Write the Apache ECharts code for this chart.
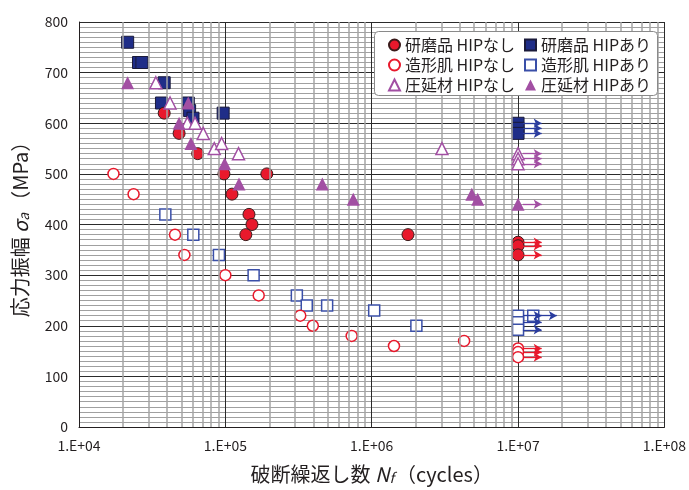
<!DOCTYPE html>
<html>
<head>
<meta charset="utf-8">
<script src="https://cdn.jsdelivr.net/npm/echarts@6/dist/echarts.min.js"></script>
<style>
html,body{margin:0;padding:0;background:#fff;}
#chart{width:689px;height:490px;}
</style>
</head>
<body>
<div id="chart"></div>
<script>
// ---- data (N cycles, stress amplitude MPa) ----
const seriesNames = ['研磨品 HIPなし','研磨品 HIPあり','造形肌 HIPなし','造形肌 HIPあり','圧延材 HIPなし','圧延材 HIPあり'];

const polishedNoHip = [[3.82e4,620],[4.83e4,580],[6.47e4,540],[9.78e4,500],[1.92e5,500],[1.11e5,460],[1.45e5,420],[1.52e5,400],[1.38e5,380],[1.77e6,380]];
const polishedNoHipRunout = [[1e7,365],[1e7,358],[1e7,340]];

const polishedHip = [[2.15e4,760],[2.55e4,720],[2.69e4,720],[3.82e4,680],[3.66e4,640],[5.58e4,640],[5.7e4,625],[6.01e4,610],[9.66e4,620]];
const polishedHipRunout = [[1e7,600],[1e7,590],[1e7,580]];

const asBuiltNoHip = [[1.72e4,500],[2.36e4,460],[4.53e4,380],[5.25e4,340],[1.0e5,300],[1.69e5,260],[3.25e5,220],[3.96e5,200],[7.3e5,180],[1.42e6,160],[4.28e6,170]];
const asBuiltNoHipRunout = [[1e7,155],[1e7,148],[1e7,138]];

const asBuiltHip = [[3.89e4,420],[6.04e4,380],[9.04e4,340],[1.56e5,300],[3.08e5,260],[3.6e5,240],[4.96e5,240],[1.04e6,230],[2.02e6,200]];
const asBuiltHipRunout = [[1e7,220],[1.27e7,220],[1e7,207],[1e7,192]];

const rolledNoHip = [[3.35e4,680],[4.19e4,640],[5.5e4,600],[6.21e4,600],[7.06e4,580],[8.4e4,550],[9.43e4,560],[1.23e5,540],[3.02e6,550]];
const rolledNoHipRunout = [[1e7,540],[1e7,530],[1e7,520]];

const rolledHip = [[2.15e4,680],[5.58e4,640],[4.83e4,600],[5.82e4,560],[9.89e4,520],[1.24e5,480],[4.6e5,480],[7.48e5,450],[4.83e6,460],[5.3e6,450]];
const rolledHipRunout = [[1e7,440]];

const xTickLabels = ['1.E+04','1.E+05','1.E+06','1.E+07','1.E+08'];
const yTicks = [0,100,200,300,400,500,600,700,800];
// minor vertical grid positions (2..9 within each decade)
const minorX = [];
[1e4,1e5,1e6,1e7].forEach(d => { for (let k = 2; k <= 9; k++) minorX.push(k * d); });

// ---- style ----
const FONT = '"Noto Sans CJK JP","Noto Sans",sans-serif';
const RED = '#e8192c', NAVY = '#1f2d88', BLUE = '#3a4fa8', PURPLE = '#a24fa3';
const ARROW_START = 1.08, ARROW_END = 1.45;

function arrows(runout, color) {
  return {
    silent: true,
    symbol: ['none','arrow'],
    symbolSize: [7, 8],
    label: {show: false},
    lineStyle: {color: color, width: 1.3, type: 'solid'},
    emphasis: {disabled: true},
    data: runout.map(p => [{coord: [p[0] * ARROW_START, p[1]]}, {coord: [p[0] * ARROW_END, p[1]]}])
  };
}

const chart = echarts.init(document.getElementById('chart'), null, {renderer: 'canvas'});

const legendText = {fontFamily: FONT, fontSize: 16, color: '#231f20', lineHeight: 15};

const option = {
  animation: false,
  backgroundColor: '#fff',
  textStyle: {fontFamily: FONT},
  grid: {left: 79, right: 22, top: 22, bottom: 59, containLabel: false},
  xAxis: {
    type: 'log', logBase: 10, min: 1e4, max: 1e8, interval: 1,
    name: '破断繰返し数 {i|N}{s|f}（cycles）',
    nameLocation: 'middle', nameGap: 36,
    nameTextStyle: {
      fontFamily: FONT, fontSize: 20, color: '#231f20',
      rich: {
        i: {fontFamily: FONT, fontSize: 20, fontStyle: 'italic', color: '#231f20'},
        s: {fontFamily: FONT, fontSize: 14, fontStyle: 'italic', color: '#231f20', verticalAlign: 'bottom', padding: [8,2,0,0]}
      }
    },
    axisLine: {show: true, lineStyle: {color: '#231f20', width: 1}},
    axisTick: {show: false},
    axisLabel: {
      fontFamily: FONT, fontSize: 14, color: '#231f20', margin: 12,
      formatter: v => xTickLabels[Math.round(Math.log10(v)) - 4]
    },
    splitLine: {show: true, lineStyle: {color: '#2b2b2b', width: 1}},
    minorTick: {show: false},
    minorSplitLine: {show: false}
  },
  yAxis: {
    type: 'value', min: 0, max: 800, interval: 100,
    name: '応力振幅 {i|σ}{s|a}（MPa）',
    nameLocation: 'middle', nameGap: 48,
    nameTextStyle: {
      fontFamily: FONT, fontSize: 20, color: '#231f20',
      rich: {
        i: {fontFamily: FONT, fontSize: 20, fontStyle: 'italic', color: '#231f20'},
        s: {fontFamily: FONT, fontSize: 14, fontStyle: 'italic', color: '#231f20', verticalAlign: 'bottom', padding: [8,2,0,0]}
      }
    },
    axisLine: {show: true, lineStyle: {color: '#231f20', width: 1}},
    axisTick: {show: false},
    axisLabel: {
      fontFamily: FONT, fontSize: 14, color: '#231f20', margin: 11,
      formatter: v => String(yTicks[Math.round(v / 100)])
    },
    splitLine: {show: true, lineStyle: {color: '#2b2b2b', width: 1}},
    minorTick: {show: false, splitNumber: 10},
    minorSplitLine: {show: true, lineStyle: {color: '#a0a0a0', width: 1}}
  },
  legend: [
    {
      orient: 'vertical', left: 388, top: 37, padding: 0, itemGap: 4, z: 60,
      itemWidth: 11, itemHeight: 11,
      textStyle: legendText,
      data: [seriesNames[0], seriesNames[2], seriesNames[4]],
      selectedMode: false
    },
    {
      orient: 'vertical', left: 524, top: 37, padding: 0, itemGap: 4, z: 60,
      itemWidth: 11, itemHeight: 11,
      textStyle: legendText,
      data: [seriesNames[1], seriesNames[3], seriesNames[5]],
      selectedMode: false
    }
  ],
  graphic: [
    {
      type: 'rect', z: 50,
      shape: {x: 374.5, y: 31.5, width: 283, height: 64, r: 4},
      style: {fill: '#fff', stroke: '#8a8a8a', lineWidth: 1}
    }
  ],
  series: [
    {
      name: 'minor-grid', type: 'line', data: [], z: 1, silent: true,
      markLine: {
        silent: true, symbol: ['none','none'], label: {show: false},
        lineStyle: {color: '#a5a5a5', width: 1.5, type: 'solid'},
        emphasis: {disabled: true},
        data: minorX.map(v => ({xAxis: v}))
      }
    },
    {
      name: seriesNames[1], type: 'scatter', z: 3,
      symbol: 'rect', symbolSize: 12,
      itemStyle: {color: NAVY, borderColor: '#1a1a3a', borderWidth: 1, opacity: 1},
      data: polishedHip.concat(polishedHipRunout),
      markLine: arrows(polishedHipRunout, '#2a3c9e')
    },
    {
      name: seriesNames[3], type: 'scatter', z: 3,
      symbol: 'rect', symbolSize: 11,
      itemStyle: {color: '#fff', borderColor: BLUE, borderWidth: 1.5, opacity: 1},
      data: asBuiltHip.concat(asBuiltHipRunout),
      markLine: arrows(asBuiltHipRunout, '#2a3c9e')
    },
    {
      name: seriesNames[0], type: 'scatter', z: 4,
      symbol: 'circle', symbolSize: 12,
      itemStyle: {color: RED, borderColor: '#3a1a1a', borderWidth: 1, opacity: 1},
      data: polishedNoHip.concat(polishedNoHipRunout),
      markLine: arrows(polishedNoHipRunout, RED)
    },
    {
      name: seriesNames[2], type: 'scatter', z: 4,
      symbol: 'circle', symbolSize: 11,
      itemStyle: {color: '#fff', borderColor: RED, borderWidth: 1.5, opacity: 1},
      data: asBuiltNoHip.concat(asBuiltNoHipRunout),
      markLine: arrows(asBuiltNoHipRunout, RED)
    },
    {
      name: seriesNames[4], type: 'scatter', z: 5,
      symbol: 'triangle', symbolSize: 12,
      itemStyle: {color: '#fff', borderColor: PURPLE, borderWidth: 1.5, opacity: 1},
      data: rolledNoHip.concat(rolledNoHipRunout),
      markLine: arrows(rolledNoHipRunout, PURPLE)
    },
    {
      name: seriesNames[5], type: 'scatter', z: 5,
      symbol: 'triangle', symbolSize: 13,
      itemStyle: {color: PURPLE, borderWidth: 0, opacity: 1},
      data: rolledHip.concat(rolledHipRunout),
      markLine: arrows(rolledHipRunout, PURPLE)
    }
  ]
};
chart.setOption(option);
</script>
</body>
</html>
